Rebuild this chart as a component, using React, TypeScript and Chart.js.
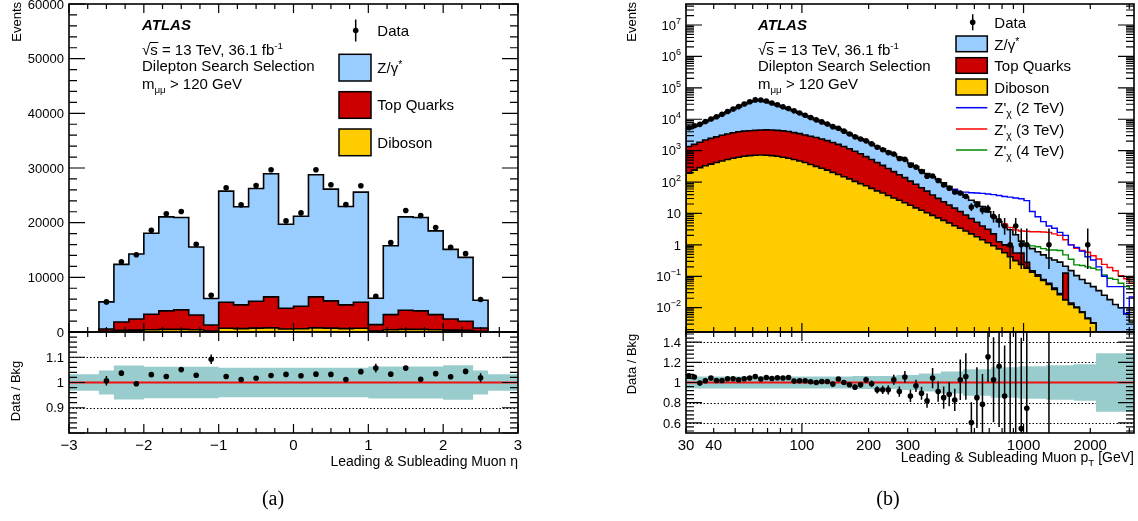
import React, { useEffect, useRef } from "react";
import { Chart, registerables } from "chart.js";

Chart.register(...registerables);

/* ================= Panel (a): leading & subleading muon eta ================= */
const etaBinEdges = [-2.6, -2.4, -2.2, -2.0, -1.8, -1.6, -1.4, -1.2, -1.0, -0.8, -0.6, -0.4, -0.2, 0, 0.2, 0.4, 0.6, 0.8, 1.0, 1.2, 1.4, 1.6, 1.8, 2.0, 2.2, 2.4, 2.6];
const etaData = [5510, 12860, 14140, 18610, 21610, 22040, 16040, 6730, 26390, 23260, 26810, 29690, 20320, 21790, 29690, 26930, 23320, 26750, 6550, 16340, 22220, 21300, 19100, 15490, 14330, 5940];
// upper edges of the stacked background (Z/γ* + Top + Diboson, Top + Diboson, Diboson)
const etaStackTotal = [5510, 12370, 14260, 18060, 21060, 20940, 15550, 6120, 25770, 22900, 26260, 28960, 19710, 21180, 28770, 26140, 22960, 25590, 6180, 15790, 21060, 20940, 18490, 15120, 13650, 5815];
const etaStackTopDib = [550, 1840, 2390, 3240, 3860, 4040, 3120, 1290, 5450, 4960, 5630, 6430, 4350, 4710, 6430, 5690, 4960, 5450, 1350, 3180, 3980, 3860, 3180, 2390, 1960, 735];
const etaDiboson = [150, 300, 350, 420, 480, 480, 400, 180, 680, 620, 700, 760, 560, 600, 760, 700, 620, 680, 180, 400, 480, 480, 420, 350, 300, 150];
const etaRatio = [1.007, 1.037, 0.995, 1.031, 1.024, 1.051, 1.029, 1.092, 1.024, 1.012, 1.017, 1.028, 1.032, 1.027, 1.033, 1.032, 1.012, 1.043, 1.057, 1.033, 1.057, 1.013, 1.035, 1.023, 1.044, 1.019];
const etaRatioErr = [0.019, 0.01, 0.009, 0.008, 0.007, 0.007, 0.008, 0.019, 0.007, 0.007, 0.007, 0.007, 0.007, 0.007, 0.007, 0.007, 0.007, 0.007, 0.017, 0.008, 0.007, 0.007, 0.008, 0.009, 0.01, 0.018];
const etaBandEdges = [-3, -2.6, -2.4, -2.2, -2.0, -1.8, -1.6, -1.4, -1.2, -1.0, -0.8, -0.6, -0.4, -0.2, 0, 0.2, 0.4, 0.6, 0.8, 1.0, 1.2, 1.4, 1.6, 1.8, 2.0, 2.2, 2.4, 2.6, 3];
const etaBandHalfWidth = [0.033, 0.048, 0.067, 0.067, 0.062, 0.062, 0.062, 0.062, 0.062, 0.058, 0.058, 0.058, 0.058, 0.058, 0.058, 0.058, 0.058, 0.058, 0.058, 0.063, 0.063, 0.063, 0.063, 0.063, 0.068, 0.068, 0.048, 0.033];
const etaTickLabels = [-3, -2, -1, 0, 1, 2, 3];
const etaEventLabels = [0, 10000, 20000, 30000, 40000, 50000, 60000];
const etaRatioLabels = [0.9, 1, 1.1];

/* ================= Panel (b): leading & subleading muon pT ================= */
const ptFirstEdge = 30;
const ptBinsPerDecade = 40;
const ptData = [
  5350, 6210, 6880, 8460, 10200, 11990, 14410, 17610, 21180, 25210,
  30600, 36200, 41230, 41160, 38130, 32890, 28830, 25050, 21940, 18460,
  15750, 13400, 11300, 9550, 8210, 6990, 5800, 5180, 4170, 3390,
  2750, 2345, 2049, 1638, 1279, 1066, 865, 779, 561, 528,
  345, 299, 215, 153, 155, 112, 81, 64, 48, 45,
  35, 16, 19, 13, 14, 8, 6, 4, 1, 4,
  1, 1, 0, 0, 0, 1, 0, 0, 0, 0,
  0, 0, 1, 0, 0, 0, 0, 0, 0, 0,
  0,
];
const ptDataErrFirstBin = 45;
const ptDataErrUp = [11.6, 10, 9, 8, 7.8, 7, 5.1, 5.4, 4.7, 4.8, 3.9, 3.6, 3.2, 2.3, 3.2, 2.3, 2.3, 0, 0, 0, 2.3, 0, 0, 0, 0, 0, 0, 2.3, 0, 0, 0, 0, 0, 0, 0, 0];
const ptDataErrDown = [10.6, 9, 8, 7, 6.7, 5.9, 4, 4.3, 3.6, 3.7, 2.8, 2.4, 1.9, 0.83, 1.9, 0.83, 0.83, 0, 0, 0, 0.83, 0, 0, 0, 0, 0, 0, 0.83, 0, 0, 0, 0, 0, 0, 0, 0];
// upper edge of Z/γ* (= Z/γ* + Top + Diboson)
const ptStackTotal = [
  5010, 5890, 6920, 8320, 9770, 11750, 14130, 16980, 20420, 24550,
  29510, 34670, 38900, 39810, 36310, 31620, 27540, 23990, 20890, 18200,
  15490, 13180, 11220, 9550, 8130, 6920, 5890, 5010, 4170, 3470,
  2880, 2400, 1995, 1660, 1380, 1150, 933, 759, 617, 501,
  398, 309, 240, 186, 148, 123, 95.5, 72.4, 57.5, 43.7,
  33.1, 26.3, 22.9, 16.6, 11.2, 7.94, 5.5, 4.17, 3.02, 2.09,
  1.32, 0.955, 0.759, 0.603, 0.479, 0.38, 0.331, 0.282, 0.209, 0.151,
  0.105, 0.079, 0.06, 0.047, 0.035, 0.025, 0.018, 0.0126, 0.01, 0.0063,
  0.0035,
];
// upper edge of Top Quarks (= Top + Diboson)
const ptStackTopDib = [
  1350, 1580, 1860, 2190, 2450, 2750, 3090, 3390, 3720, 3980,
  4170, 4320, 4420, 4520, 4570, 4520, 4420, 4270, 4070, 3760,
  3470, 3160, 2880, 2630, 2340, 2090, 1820, 1580, 1350, 1150,
  955, 794, 646, 525, 417, 339, 269, 214, 170, 138,
  107, 85.1, 66.1, 51.3, 38.9, 30.2, 23.7, 18.6, 14.8, 11.5,
  8.91, 6.92, 5.25, 3.98, 3.16, 2.24, 1.26, 1.0, 0.89, 0.55,
  0.55, 0.28, 0.15, 0.112, 0.079, 0.06, 0.042, 0.028, 0.126, 0.0141,
  0.0105, 0.0074, 0.0047, 0.0033, 0, 0, 0, 0, 0, 0,
  0,
];
const ptDiboson = [
  191, 240, 288, 331, 372, 417, 468, 525, 575, 617,
  661, 692, 716, 724, 716, 692, 661, 617, 575, 525,
  468, 417, 363, 316, 275, 240, 204, 174, 148, 126,
  105, 89.1, 75.9, 63.1, 52.5, 44.7, 37.2, 30.9, 26.3, 21.9,
  18.2, 15.1, 12.6, 10.5, 8.71, 7.24, 6.03, 5.01, 4.07, 3.39,
  2.75, 2.24, 1.82, 1.45, 1.17, 0.933, 0.741, 0.562, 0.417, 0.316,
  0.24, 0.182, 0.135, 0.1, 0.074, 0.055, 0.038, 0.026, 0.0178, 0.0126,
  0.01, 0.0071, 0.0045, 0.0032, 0, 0, 0, 0, 0, 0,
  0,
];
// Z'χ signal + background, shown from the bin where they separate from the background
const ptZp2FirstBin = 48;
const ptZp2TeV = [58, 47, 47.9, 45.7, 44.7, 43.7, 41.7, 39.8, 37.2, 34.7, 33.1, 30.9, 29.5, 25.7, 11.5, 7.9, 5.5, 4.0, 3.4, 2.5, 2.0, 1.0, 0.83, 0.63, 0.42, 0.33, 0.2, 0.1, 0.047, 0.047, 0.047, 0.0065, 0.022];
const ptZp3FirstBin = 57;
const ptZp3TeV = [4.6, 3.6, 3.0, 2.75, 2.7, 2.63, 2.63, 2.57, 2.5, 2.24, 2.0, 1.45, 1.0, 0.78, 0.66, 0.58, 0.45, 0.355, 0.24, 0.19, 0.15, 0.105, 0.083, 0.06];
const ptZp4FirstBin = 61;
const ptZp4TeV = [1.0, 0.93, 0.87, 0.76, 0.69, 0.69, 0.66, 0.48, 0.35, 0.23, 0.22, 0.2, 0.18, 0.16, 0.11, 0.087, 0.08, 0.06, 0.047, 0.04];
const ptRatio = [
  1.067, 1.054, 0.994, 1.017, 1.044, 1.02, 1.02, 1.037, 1.037, 1.027,
  1.037, 1.044, 1.06, 1.034, 1.05, 1.04, 1.047, 1.044, 1.05, 1.014,
  1.017, 1.017, 1.007, 1.0, 1.01, 1.01, 0.984, 1.034, 1.0, 0.977,
  0.954, 0.977, 1.027, 0.987, 0.927, 0.927, 0.927, 1.027, 0.91, 1.054,
  0.867, 0.967, 0.894, 0.82, 1.044, 0.91, 0.85, 0.884, 0.827, 1.027,
  1.06, 0.604, 0.85, 0.784, 1.254, 1.027, 1.16, 0.867, 0.33, 1.9,
  0.544, 0.744, null, null, null, 2.2, null, null, null, null,
  null, null, null, null, null, null, null, null, null, null,
  null,
];
const ptRatioErr = [
  0.014, 0.013, 0.012, 0.011, 0.01, 0.01, 0.009, 0.008, 0.008, 0.008,
  0.008, 0.008, 0.008, 0.008, 0.008, 0.008, 0.009, 0.009, 0.01, 0.01,
  0.011, 0.012, 0.013, 0.014, 0.015, 0.016, 0.017, 0.018, 0.02, 0.022,
  0.025, 0.027, 0.03, 0.032, 0.035, 0.04, 0.045, 0.05, 0.05, 0.06,
  0.06, 0.06, 0.065, 0.07, 0.1, 0.1, 0.11, 0.12, 0.11, 0.2,
  0.23, 0.2, 0.3, 0.3, 0.25, 0.42, 0.6, 0.5, 1.2, 1.5,
  0.9, 1.0, 0, 0, 0, 2.0, 0, 0, 0, 0,
  0, 0, 0, 0, 0, 0, 0, 0, 0, 0,
  0,
];
const ptBandHalfWidth = [
  0.06, 0.06, 0.06, 0.06, 0.06, 0.06, 0.06, 0.06, 0.06, 0.06,
  0.06, 0.06, 0.06, 0.06, 0.06, 0.06, 0.06, 0.06, 0.06, 0.06,
  0.06, 0.06, 0.06, 0.06, 0.06, 0.06, 0.06, 0.06, 0.06, 0.06,
  0.065, 0.065, 0.065, 0.065, 0.065, 0.065, 0.065, 0.065, 0.075, 0.075,
  0.075, 0.075, 0.09, 0.09, 0.09, 0.09, 0.11, 0.11, 0.11, 0.11,
  0.13, 0.13, 0.13, 0.13, 0.13, 0.15, 0.15, 0.15, 0.15, 0.15,
  0.16, 0.16, 0.16, 0.16, 0.16, 0.17, 0.17, 0.17, 0.17, 0.17,
  0.18, 0.18, 0.18, 0.18, 0.29, 0.29, 0.29, 0.29, 0.29, 0.29,
  0.29,
];
const ptTickLabels = [30, 40, 100, 200, 300, 1000, 2000];
const ptEventExponents = [-2, -1, 0, 1, 2, 3, 4, 5, 6, 7];
const ptRatioLabels = [0.6, 0.8, 1, 1.2, 1.4];

/* ================= layout & style ================= */
const W = 1138;
const H = 521;
const SANS = '"Liberation Sans", Arial, Helvetica, sans-serif';
const SERIF = '"Liberation Serif", "DejaVu Serif", "Times New Roman", serif';
const COL_Z = "#99ccff";
const COL_TOP = "#cc0000";
const COL_DIB = "#ffcc00";
const COL_BAND = "#99cccc";
const COL_ZP2 = "#0000ff";
const COL_ZP3 = "#ff0000";
const COL_ZP4 = "#008a00";

const A_MAIN = { l: 69, r: 518, t: 4, b: 332 };
const A_RATIO = { l: 69, r: 518, t: 332, b: 433 };
const B_MAIN = { l: 686, r: 1135, t: 4, b: 332 };
const B_RATIO = { l: 686, r: 1135, t: 332, b: 433 };
const PT_MIN = 30;
const PT_MAX = 3150;
const EV_MIN = 1.683e-3;
const EV_MAX = 4.663e7;

const ptEdges = Array.from({ length: ptData.length + 1 }, (_, k) => ptFirstEdge * Math.pow(10, k / ptBinsPerDecade));
const ptCenters = ptData.map((_, k) => Math.sqrt(ptEdges[k] * ptEdges[k + 1]));
const etaCenters = etaData.map((_, i) => (etaBinEdges[i] + etaBinEdges[i + 1]) / 2);

/* ================= helpers ================= */
function font(size: number, style = "") {
  return `${style}${size}px ${SANS}`;
}
type Seg = { t: string; s?: number; dy?: number; over?: boolean; style?: string };
function richText(ctx: any, segs: Seg[], x: number, y: number, size: number, align = "left") {
  const ws = segs.map((g) => {
    ctx.font = font(size * (g.s ?? 1), g.style ?? "");
    return ctx.measureText(g.t).width;
  });
  const total = ws.reduce((a, b) => a + b, 0);
  let cx = align === "left" ? x : align === "right" ? x - total : x - total / 2;
  ctx.save();
  ctx.fillStyle = "#000";
  ctx.strokeStyle = "#000";
  ctx.textAlign = "left";
  ctx.textBaseline = "alphabetic";
  segs.forEach((g, i) => {
    ctx.font = font(size * (g.s ?? 1), g.style ?? "");
    ctx.fillText(g.t, cx, y + (g.dy ?? 0));
    if (g.over) {
      ctx.lineWidth = 1;
      ctx.beginPath();
      ctx.moveTo(cx - 0.5, y - size * 0.8);
      ctx.lineTo(cx + ws[i] + 0.5, y - size * 0.8);
      ctx.stroke();
    }
    cx += ws[i];
  });
  ctx.restore();
}
function label(ctx: any, s: string, x: number, yc: number, size: number, align = "left") {
  richText(ctx, [{ t: s }], x, yc + size * 0.36, size, align);
}
function rotText(ctx: any, s: string, x: number, y: number, size: number, align: any) {
  ctx.save();
  ctx.translate(x, y);
  ctx.rotate(-Math.PI / 2);
  ctx.font = font(size);
  ctx.fillStyle = "#000";
  ctx.textAlign = align;
  ctx.textBaseline = "middle";
  ctx.fillText(s, 0, 0);
  ctx.restore();
}
function numLabel(v: number) {
  return v < 0 ? "\u2212" + Math.abs(v) : String(v);
}
function linTicks(min: number, max: number, step: number) {
  const out: number[] = [];
  const n = Math.round((max - min) / step);
  for (let i = 0; i <= n; i++) out.push(+(min + i * step).toFixed(6));
  return out;
}
function logTicks(min: number, max: number) {
  const major: number[] = [];
  const minor: number[] = [];
  for (let e = -4; e <= 8; e++)
    for (let m = 1; m <= 9; m++) {
      const v = m * Math.pow(10, e);
      if (v < min * 0.9999 || v > max * 1.0001) continue;
      (m === 1 ? major : minor).push(v);
    }
  return { major, minor };
}
function drawFrameTicks(chart: any, xMaj: number[], xMin: number[], yMaj: number[], yMin: number[], L: any) {
  const { ctx, chartArea: a } = chart;
  const xs = chart.scales.x;
  const ys = chart.scales.y;
  ctx.save();
  ctx.strokeStyle = "#000";
  ctx.lineWidth = 1.2;
  ctx.beginPath();
  const vx = (vals: number[], len: number) =>
    vals.forEach((v) => {
      const p = xs.getPixelForValue(v);
      if (p < a.left - 0.5 || p > a.right + 0.5) return;
      ctx.moveTo(p, a.bottom);
      ctx.lineTo(p, a.bottom - len);
      ctx.moveTo(p, a.top);
      ctx.lineTo(p, a.top + len);
    });
  const vy = (vals: number[], len: number) =>
    vals.forEach((v) => {
      const p = ys.getPixelForValue(v);
      if (p < a.top - 0.5 || p > a.bottom + 0.5) return;
      ctx.moveTo(a.left, p);
      ctx.lineTo(a.left + len, p);
      ctx.moveTo(a.right, p);
      ctx.lineTo(a.right - len, p);
    });
  vx(xMaj, L.xMaj);
  vx(xMin, L.xMin);
  vy(yMaj, L.yMaj);
  vy(yMin, L.yMin);
  ctx.stroke();
  ctx.lineWidth = 1.6;
  ctx.strokeRect(a.left, a.top, a.right - a.left, a.bottom - a.top);
  ctx.restore();
}
function errorBars(chart: any, bars: { x: number; lo: number; hi: number }[]) {
  const { ctx, chartArea: a } = chart;
  const xs = chart.scales.x;
  const ys = chart.scales.y;
  ctx.save();
  ctx.beginPath();
  ctx.rect(a.left, a.top, a.right - a.left, a.bottom - a.top);
  ctx.clip();
  ctx.strokeStyle = "#000";
  ctx.lineWidth = 1.5;
  ctx.beginPath();
  bars.forEach((b) => {
    const px = xs.getPixelForValue(b.x);
    ctx.moveTo(px, ys.getPixelForValue(b.lo));
    ctx.lineTo(px, ys.getPixelForValue(b.hi));
  });
  ctx.stroke();
  ctx.restore();
}
function dottedGrid(chart: any, values: number[]) {
  const { ctx, chartArea: a } = chart;
  const ys = chart.scales.y;
  ctx.save();
  ctx.strokeStyle = "#000";
  ctx.lineWidth = 1;
  ctx.setLineDash([1.5, 2]);
  ctx.beginPath();
  values.forEach((v) => {
    const p = Math.round(ys.getPixelForValue(v)) + 0.5;
    ctx.moveTo(a.left, p);
    ctx.lineTo(a.right, p);
  });
  ctx.stroke();
  ctx.restore();
}
function legendBox(ctx: any, x: number, y: number, w: number, h: number, color: string) {
  ctx.save();
  ctx.fillStyle = color;
  ctx.fillRect(x, y, w, h);
  ctx.strokeStyle = "#000";
  ctx.lineWidth = 1.5;
  ctx.strokeRect(x, y, w, h);
  ctx.restore();
}
function legendMarker(ctx: any, x: number, y: number, half: number) {
  ctx.save();
  ctx.strokeStyle = "#000";
  ctx.fillStyle = "#000";
  ctx.lineWidth = 1.5;
  ctx.beginPath();
  ctx.moveTo(x, y - half);
  ctx.lineTo(x, y + half);
  ctx.stroke();
  ctx.beginPath();
  ctx.arc(x, y, 2.8, 0, Math.PI * 2);
  ctx.fill();
  ctx.restore();
}
function legendLine(ctx: any, x1: number, x2: number, y: number, color: string) {
  ctx.save();
  ctx.strokeStyle = color;
  ctx.lineWidth = 1.5;
  ctx.beginPath();
  ctx.moveTo(x1, y);
  ctx.lineTo(x2, y);
  ctx.stroke();
  ctx.restore();
}
function atlasBlock(ctx: any, x: number) {
  richText(ctx, [{ t: "ATLAS", style: "italic bold " }], x, 30, 15);
  richText(ctx, [{ t: "\u221A" }, { t: "s", over: true }, { t: " = 13 TeV, 36.1 fb" }, { t: "-1", s: 0.65, dy: -6 }], x, 54.5, 15);
  richText(ctx, [{ t: "Dilepton Search Selection" }], x, 71, 15);
  richText(ctx, [{ t: "m" }, { t: "\u03BC\u03BC", s: 0.65, dy: 4 }, { t: " > 120 GeV" }], x, 88.5, 15);
}

/* ================= dataset builders ================= */
function histPoints(edges: number[], vals: number[], floor: number) {
  const f = (v: number) => (v > 0 ? v : floor);
  const pts: { x: number; y: number }[] = [{ x: edges[0], y: floor }];
  vals.forEach((v, i) => pts.push({ x: edges[i], y: f(v) }));
  pts.push({ x: edges[vals.length], y: f(vals[vals.length - 1]) });
  pts.push({ x: edges[vals.length], y: floor });
  return pts;
}
function stepPoints(edges: number[], first: number, vals: number[]) {
  const pts = vals.map((v, i) => ({ x: edges[first + i], y: v }));
  pts.push({ x: edges[first + vals.length], y: vals[vals.length - 1] });
  return pts;
}
function histDataset(points: any[], fillColor: string, order: number) {
  return {
    data: points,
    stepped: "before",
    fill: "start",
    backgroundColor: fillColor,
    borderColor: "#000",
    borderWidth: 1.6,
    pointRadius: 0,
    order,
  };
}
function lineDataset(points: any[], color: string, width: number, order: number) {
  return { data: points, stepped: "before", fill: false, borderColor: color, borderWidth: width, pointRadius: 0, order };
}
function markerDataset(points: any[], order: number) {
  return {
    data: points,
    showLine: false,
    pointRadius: 2.8,
    pointBackgroundColor: "#000",
    pointBorderWidth: 0,
    pointBorderColor: "#000",
    order,
  };
}
function bandDatasets(edges: number[], halfWidths: number[]) {
  return [
    {
      data: stepPoints(edges, 0, halfWidths.map((h) => 1 + h)),
      stepped: "before",
      fill: "+1",
      backgroundColor: COL_BAND,
      borderColor: "rgba(0,0,0,0)",
      borderWidth: 0.01,
      pointRadius: 0,
      order: 3,
    },
    {
      data: stepPoints(edges, 0, halfWidths.map((h) => 1 - h)),
      stepped: "before",
      fill: false,
      borderColor: "rgba(0,0,0,0)",
      borderWidth: 0.01,
      pointRadius: 0,
      order: 4,
    },
  ];
}
function baseOptions(area: any, x: any, y: any) {
  return {
    responsive: false,
    animation: false,
    events: [],
    layout: { padding: { left: area.l, right: W - area.r, top: area.t, bottom: H - area.b } },
    plugins: { legend: { display: false }, tooltip: { enabled: false }, title: { display: false } },
    scales: { x: { ...x, display: false }, y: { ...y, display: false } },
    elements: { line: { tension: 0 } },
  };
}

/* ================= chart configs ================= */
function etaMainConfig(): any {
  return {
    type: "line",
    data: {
      datasets: [
        markerDataset(etaCenters.map((x, i) => ({ x, y: etaData[i] })), 0),
        histDataset(histPoints(etaBinEdges, etaDiboson, 0), COL_DIB, 1),
        histDataset(histPoints(etaBinEdges, etaStackTopDib, 0), COL_TOP, 2),
        histDataset(histPoints(etaBinEdges, etaStackTotal, 0), COL_Z, 3),
      ],
    },
    options: baseOptions(A_MAIN, { type: "linear", min: -3, max: 3 }, { type: "linear", min: 0, max: 60000 }),
    plugins: [
      {
        id: "etaMainDecor",
        afterDatasetsDraw(c: any) {
          const ctx = c.ctx;
          const a = c.chartArea;
          const ys = c.scales.y;
          drawFrameTicks(c, linTicks(-3, 3, 1), linTicks(-3, 3, 0.25), linTicks(0, 60000, 10000), linTicks(0, 60000, 2000), { xMaj: 9, xMin: 5, yMaj: 16, yMin: 8 });
          etaEventLabels.forEach((v) => label(ctx, String(v), a.left - 5, ys.getPixelForValue(v), 13, "right"));
          rotText(ctx, "Events", 17, 2, 13, "right");
          atlasBlock(ctx, 142);
          legendMarker(ctx, 355.7, 30.5, 11);
          richText(ctx, [{ t: "Data" }], 377.3, 36, 15);
          legendBox(ctx, 339, 54.3, 32, 26.7, COL_Z);
          richText(ctx, [{ t: "Z/\u03B3" }, { t: "*", s: 0.7, dy: -5 }], 377.3, 72.5, 15);
          legendBox(ctx, 339, 91.7, 32, 26.6, COL_TOP);
          richText(ctx, [{ t: "Top Quarks" }], 377.3, 110, 15);
          legendBox(ctx, 339, 129, 32, 26.7, COL_DIB);
          richText(ctx, [{ t: "Diboson" }], 377.3, 148, 15);
        },
      },
    ],
  };
}

function etaRatioConfig(): any {
  return {
    type: "line",
    data: {
      datasets: [
        markerDataset(etaCenters.map((x, i) => ({ x, y: etaRatio[i] })), 0),
        { data: [{ x: -3, y: 1 }, { x: 3, y: 1 }], borderColor: "#ee1111", borderWidth: 2, pointRadius: 0, fill: false, order: 1 },
        ...bandDatasets(etaBandEdges, etaBandHalfWidth),
      ],
    },
    options: baseOptions(A_RATIO, { type: "linear", min: -3, max: 3 }, { type: "linear", min: 0.8, max: 1.2 }),
    plugins: [
      {
        id: "etaRatioDecor",
        beforeDatasetsDraw(c: any) {
          dottedGrid(c, [0.9, 1.1]);
        },
        afterDatasetsDraw(c: any) {
          const ctx = c.ctx;
          const a = c.chartArea;
          const xs = c.scales.x;
          const ys = c.scales.y;
          errorBars(c, etaCenters.map((x, i) => ({ x, lo: etaRatio[i] - etaRatioErr[i], hi: etaRatio[i] + etaRatioErr[i] })));
          drawFrameTicks(c, linTicks(-3, 3, 1), linTicks(-3, 3, 0.25), linTicks(0.8, 1.2, 0.1), linTicks(0.8, 1.2, 0.02), { xMaj: 9, xMin: 5, yMaj: 16, yMin: 8 });
          etaRatioLabels.forEach((v) => label(ctx, String(v), a.left - 5, ys.getPixelForValue(v), 13, "right"));
          etaTickLabels.forEach((v) => richText(ctx, [{ t: numLabel(v) }], xs.getPixelForValue(v), 450, 15, "center"));
          rotText(ctx, "Data / Bkg", 16, 391, 13, "center");
          richText(ctx, [{ t: "Leading & Subleading Muon \u03B7" }], a.right, 466, 14, "right");
          ctx.save();
          ctx.font = `20px ${SERIF}`;
          ctx.fillStyle = "#000";
          ctx.textAlign = "center";
          ctx.textBaseline = "alphabetic";
          ctx.fillText("(a)", 273, 505);
          ctx.restore();
        },
      },
    ],
  };
}

function ptMainConfig(): any {
  const dataPts = ptCenters.map((x, k) => ({ x, y: ptData[k] > 0 ? ptData[k] : null }));
  return {
    type: "line",
    data: {
      datasets: [
        markerDataset(dataPts, 0),
        lineDataset(stepPoints(ptEdges, ptZp2FirstBin, ptZp2TeV), COL_ZP2, 1.4, 1),
        lineDataset(stepPoints(ptEdges, ptZp3FirstBin, ptZp3TeV), COL_ZP3, 1.4, 2),
        lineDataset(stepPoints(ptEdges, ptZp4FirstBin, ptZp4TeV), COL_ZP4, 1.4, 3),
        histDataset(histPoints(ptEdges, ptDiboson, EV_MIN), COL_DIB, 4),
        histDataset(histPoints(ptEdges, ptStackTopDib, EV_MIN), COL_TOP, 5),
        histDataset(histPoints(ptEdges, ptStackTotal, EV_MIN), COL_Z, 6),
      ],
    },
    options: baseOptions(B_MAIN, { type: "logarithmic", min: PT_MIN, max: PT_MAX }, { type: "logarithmic", min: EV_MIN, max: EV_MAX }),
    plugins: [
      {
        id: "ptMainDecor",
        afterDatasetsDraw(c: any) {
          const ctx = c.ctx;
          const a = c.chartArea;
          const ys = c.scales.y;
          const bars: any[] = [];
          ptDataErrUp.forEach((up, i) => {
            const k = ptDataErrFirstBin + i;
            if (ptData[k] > 0 && up > 0) bars.push({ x: ptCenters[k], lo: Math.max(ptData[k] - ptDataErrDown[i], EV_MIN), hi: ptData[k] + up });
          });
          errorBars(c, bars);
          const xt = logTicks(PT_MIN, PT_MAX);
          const yt = logTicks(EV_MIN, EV_MAX);
          drawFrameTicks(c, xt.major, xt.minor, yt.major, yt.minor, { xMaj: 9, xMin: 5, yMaj: 16, yMin: 8 });
          ptEventExponents.forEach((e) => {
            const y = ys.getPixelForValue(Math.pow(10, e));
            const segs: Seg[] = e === 0 ? [{ t: "1" }] : e === 1 ? [{ t: "10" }] : [{ t: "10" }, { t: e < 0 ? "\u2212" + -e : String(e), s: 0.7, dy: -6 }];
            richText(ctx, segs, a.left - 5, y + 13 * 0.36, 13, "right");
          });
          rotText(ctx, "Events", 632, 2, 13, "right");
          atlasBlock(ctx, 758);
          const lx = 994.3;
          legendMarker(ctx, 972.7, 22.3, 8);
          richText(ctx, [{ t: "Data" }], lx, 27.5, 15);
          legendBox(ctx, 956, 36, 31.3, 15.7, COL_Z);
          richText(ctx, [{ t: "Z/\u03B3" }, { t: "*", s: 0.7, dy: -5 }], lx, 49.5, 15);
          legendBox(ctx, 956, 57.7, 31.3, 15.6, COL_TOP);
          richText(ctx, [{ t: "Top Quarks" }], lx, 71, 15);
          legendBox(ctx, 956, 79, 31.3, 16, COL_DIB);
          richText(ctx, [{ t: "Diboson" }], lx, 92.5, 15);
          const zp = (m: string, col: string, y: number) => {
            legendLine(ctx, 956, 987.3, y, col);
            richText(ctx, [{ t: "Z'" }, { t: "\u03C7", s: 0.7, dy: 4 }, { t: ` (${m} TeV)` }], lx, y + 5.5, 15);
          };
          zp("2", COL_ZP2, 107.7);
          zp("3", COL_ZP3, 129);
          zp("4", COL_ZP4, 150);
        },
      },
    ],
  };
}

function ptRatioConfig(): any {
  return {
    type: "line",
    data: {
      datasets: [
        markerDataset(ptCenters.map((x, k) => ({ x, y: ptRatio[k] })), 0),
        { data: [{ x: PT_MIN, y: 1 }, { x: PT_MAX, y: 1 }], borderColor: "#ee1111", borderWidth: 2, pointRadius: 0, fill: false, order: 1 },
        ...bandDatasets(ptEdges, ptBandHalfWidth),
      ],
    },
    options: baseOptions(B_RATIO, { type: "logarithmic", min: PT_MIN, max: PT_MAX }, { type: "linear", min: 0.5, max: 1.5 }),
    plugins: [
      {
        id: "ptRatioDecor",
        beforeDatasetsDraw(c: any) {
          dottedGrid(c, [0.6, 0.8, 1.2, 1.4]);
        },
        afterDatasetsDraw(c: any) {
          const ctx = c.ctx;
          const a = c.chartArea;
          const xs = c.scales.x;
          const ys = c.scales.y;
          const bars: any[] = [];
          ptRatio.forEach((r, k) => {
            if (r !== null && ptRatioErr[k] > 0) bars.push({ x: ptCenters[k], lo: r - ptRatioErr[k], hi: r + ptRatioErr[k] });
          });
          errorBars(c, bars);
          const xt = logTicks(PT_MIN, PT_MAX);
          drawFrameTicks(c, xt.major, xt.minor, linTicks(0.6, 1.4, 0.2), linTicks(0.52, 1.48, 0.04), { xMaj: 9, xMin: 5, yMaj: 16, yMin: 8 });
          ptRatioLabels.forEach((v) => label(ctx, String(v), a.left - 5, ys.getPixelForValue(v), 13, "right"));
          ptTickLabels.forEach((v) => richText(ctx, [{ t: String(v) }], xs.getPixelForValue(v), 450, 15, "center"));
          rotText(ctx, "Data / Bkg", 632, 364, 13, "center");
          richText(ctx, [{ t: "Leading & Subleading Muon p" }, { t: "T", s: 0.7, dy: 4 }, { t: " [GeV]" }], a.right, 462, 14, "right");
          ctx.save();
          ctx.font = `20px ${SERIF}`;
          ctx.fillStyle = "#000";
          ctx.textAlign = "center";
          ctx.textBaseline = "alphabetic";
          ctx.fillText("(b)", 888, 505);
          ctx.restore();
        },
      },
    ],
  };
}

/* ================= component ================= */
export default function App() {
  const r1 = useRef<HTMLCanvasElement>(null);
  const r2 = useRef<HTMLCanvasElement>(null);
  const r3 = useRef<HTMLCanvasElement>(null);
  const r4 = useRef<HTMLCanvasElement>(null);

  useEffect(() => {
    const charts = [
      new Chart(r1.current as HTMLCanvasElement, etaMainConfig()),
      new Chart(r2.current as HTMLCanvasElement, etaRatioConfig()),
      new Chart(r3.current as HTMLCanvasElement, ptMainConfig()),
      new Chart(r4.current as HTMLCanvasElement, ptRatioConfig()),
    ];
    return () => charts.forEach((c) => c.destroy());
  }, []);

  const cs: React.CSSProperties = { position: "absolute", left: 0, top: 0, width: W, height: H };
  return (
    <div style={{ position: "fixed", left: 0, top: 0, width: W, height: H, background: "#fff", overflow: "hidden" }}>
      <canvas ref={r1} width={W} height={H} style={cs} />
      <canvas ref={r2} width={W} height={H} style={cs} />
      <canvas ref={r3} width={W} height={H} style={cs} />
      <canvas ref={r4} width={W} height={H} style={cs} />
    </div>
  );
}
